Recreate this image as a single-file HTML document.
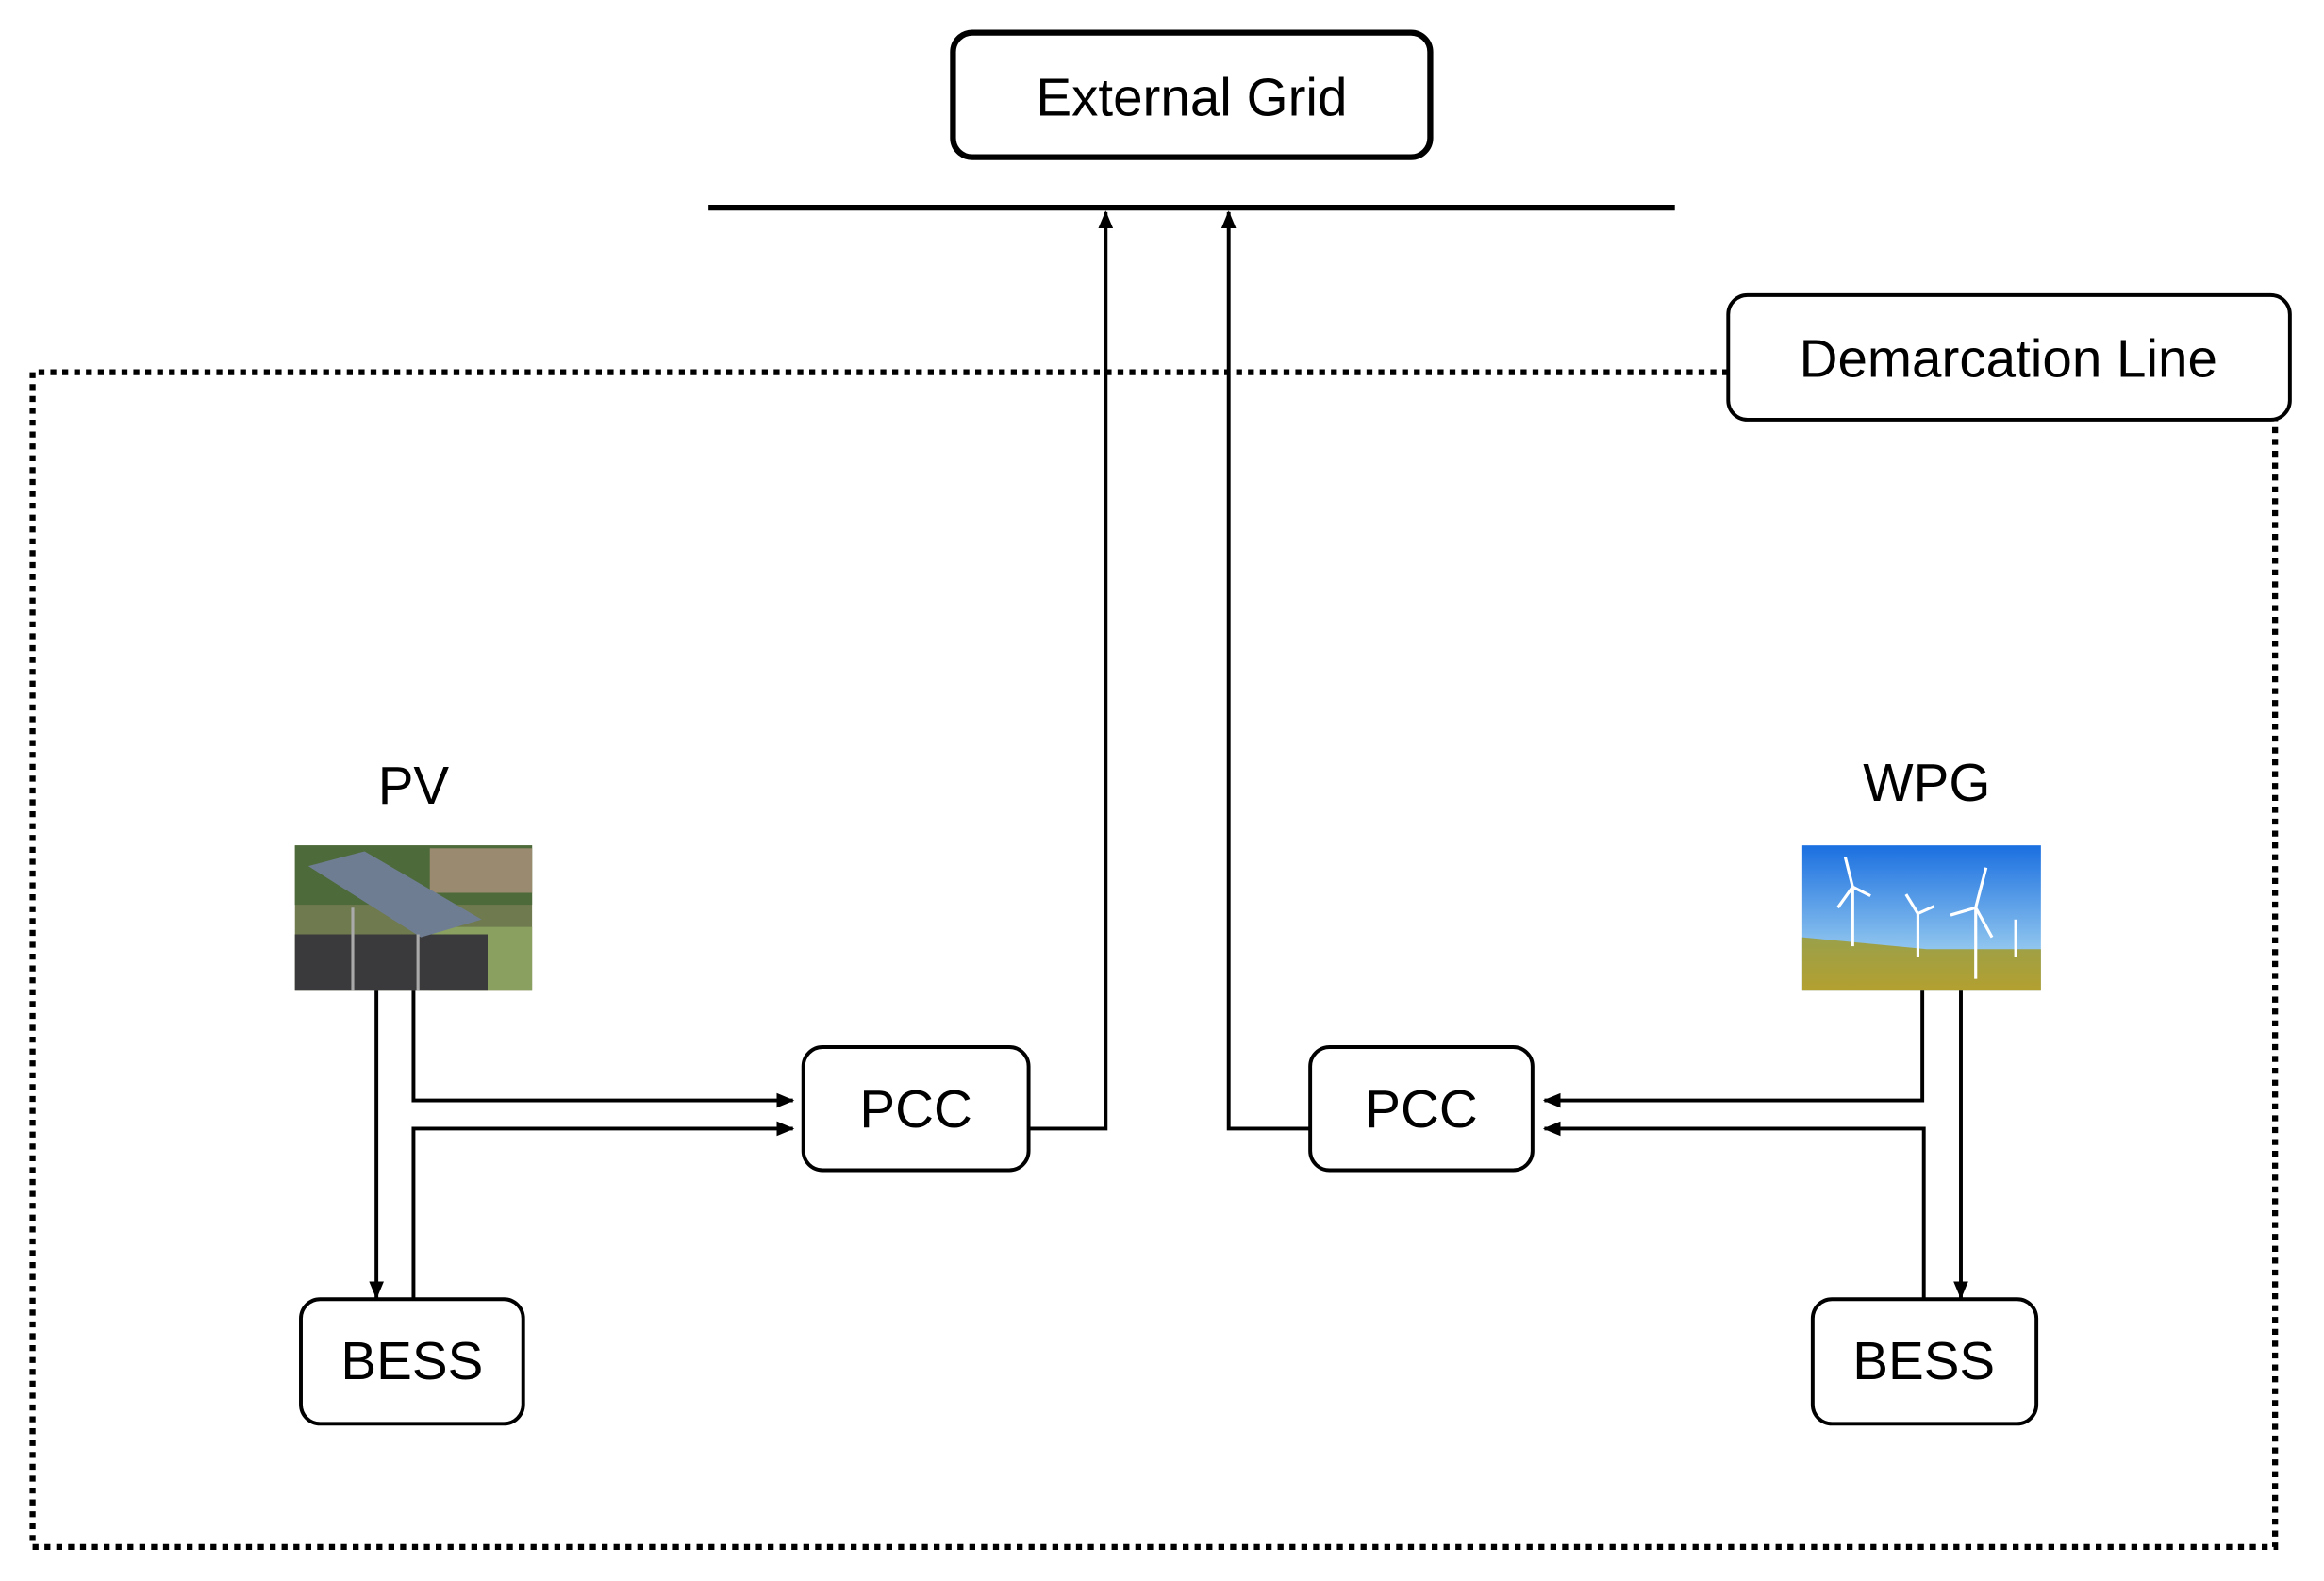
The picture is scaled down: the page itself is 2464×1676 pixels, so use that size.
<!DOCTYPE html>
<html><head><meta charset="utf-8"><style>
html,body{margin:0;padding:0;background:#fff;}
svg{display:block;}
text{font-family:"Liberation Sans","Noto Sans CJK KR",sans-serif;fill:#000;}
</style></head><body>
<svg width="2464" height="1676" viewBox="0 0 1568 1066" preserveAspectRatio="none" xmlns="http://www.w3.org/2000/svg">
<defs>
<marker id="a" markerWidth="12" markerHeight="10" refX="11" refY="5" orient="auto" markerUnits="userSpaceOnUse"><path d="M0,0 L12,5 L0,10 z" fill="#000"/></marker>
<linearGradient id="sky" x1="0" y1="0" x2="0" y2="1"><stop offset="0" stop-color="#1a6fe0"/><stop offset="0.7" stop-color="#8ec4ee"/></linearGradient>
<linearGradient id="gnd" x1="0" y1="0" x2="0" y2="1"><stop offset="0" stop-color="#9aa04a"/><stop offset="1" stop-color="#b3a030"/></linearGradient>
</defs>
<path d="M1166,251 L22,251 L22,1043 L1535,1043 L1535,283" fill="none" stroke="#000" stroke-width="4" stroke-dasharray="4 4"/>
<rect x="643" y="22" width="322" height="84" rx="13" fill="#fff" stroke="#000" stroke-width="4"/>
<text x="804" y="78" font-size="36" text-anchor="middle">External Grid</text>
<line x1="478" y1="140" x2="1130" y2="140" stroke="#000" stroke-width="4"/>
<rect x="1166" y="199" width="379" height="84" rx="13" fill="#fff" stroke="#000" stroke-width="2.5"/>
<text x="1355" y="254" font-size="36" text-anchor="middle">Demarcation Line</text>
<polyline points="694,761 746,761 746,143" fill="none" stroke="#000" stroke-width="2.5" marker-end="url(#a)"/>
<polyline points="884,761 829,761 829,143" fill="none" stroke="#000" stroke-width="2.5" marker-end="url(#a)"/>
<text x="279" y="542" font-size="36" text-anchor="middle">PV</text>
<text x="1300" y="540" font-size="36" text-anchor="middle">WPG</text>
<g>
<rect x="199" y="570" width="160" height="98" fill="#6f7a4e"/>
<rect x="199" y="570" width="160" height="40" fill="#4d6a3a"/>
<rect x="290" y="572" width="69" height="30" fill="#9a8a70"/>
<rect x="290" y="625" width="69" height="43" fill="#8aa060"/>
<rect x="199" y="630" width="130" height="38" fill="#3a3a3c"/>
<polygon points="208,584 246,574 325,620 284,632" fill="#6f7d92"/>
<line x1="238" y1="612" x2="238" y2="668" stroke="#aaa" stroke-width="2"/>
<line x1="282" y1="630" x2="282" y2="668" stroke="#aaa" stroke-width="2"/>
</g>
<g>
<rect x="1216" y="570" width="161" height="98" fill="url(#sky)"/>
<polygon points="1216,632 1300,640 1377,640 1377,668 1216,668" fill="url(#gnd)"/>
<g stroke="#fff" stroke-width="2">
<line x1="1250" y1="598" x2="1250" y2="638"/><line x1="1250" y1="598" x2="1245" y2="578"/><line x1="1250" y1="598" x2="1262" y2="604"/><line x1="1250" y1="598" x2="1240" y2="612"/>
<line x1="1294" y1="616" x2="1294" y2="645"/><line x1="1294" y1="616" x2="1286" y2="603"/><line x1="1294" y1="616" x2="1305" y2="611"/>
<line x1="1333" y1="612" x2="1333" y2="660"/><line x1="1333" y1="612" x2="1340" y2="585"/><line x1="1333" y1="612" x2="1316" y2="617"/><line x1="1333" y1="612" x2="1344" y2="632"/>
<line x1="1360" y1="620" x2="1360" y2="645"/>
</g>
</g>
<line x1="254" y1="668" x2="254" y2="875" stroke="#000" stroke-width="2.5" marker-end="url(#a)"/>
<polyline points="279,668 279,742 535,742" fill="none" stroke="#000" stroke-width="2.5" marker-end="url(#a)"/>
<polyline points="279,876 279,761 535,761" fill="none" stroke="#000" stroke-width="2.5" marker-end="url(#a)"/>
<line x1="1323" y1="668" x2="1323" y2="875" stroke="#000" stroke-width="2.5" marker-end="url(#a)"/>
<polyline points="1297,668 1297,742 1042,742" fill="none" stroke="#000" stroke-width="2.5" marker-end="url(#a)"/>
<polyline points="1298,876 1298,761 1042,761" fill="none" stroke="#000" stroke-width="2.5" marker-end="url(#a)"/>
<rect x="542" y="706" width="152" height="83" rx="13" fill="#fff" stroke="#000" stroke-width="2.5"/>
<text x="618" y="760" font-size="36" text-anchor="middle">PCC</text>
<rect x="884" y="706" width="150" height="83" rx="13" fill="#fff" stroke="#000" stroke-width="2.5"/>
<text x="959" y="760" font-size="36" text-anchor="middle">PCC</text>
<rect x="203" y="876" width="150" height="84" rx="13" fill="#fff" stroke="#000" stroke-width="2.5"/>
<text x="278" y="930" font-size="36" text-anchor="middle">BESS</text>
<rect x="1223" y="876" width="151" height="84" rx="13" fill="#fff" stroke="#000" stroke-width="2.5"/>
<text x="1298" y="930" font-size="36" text-anchor="middle">BESS</text>
</svg>
</body></html>
